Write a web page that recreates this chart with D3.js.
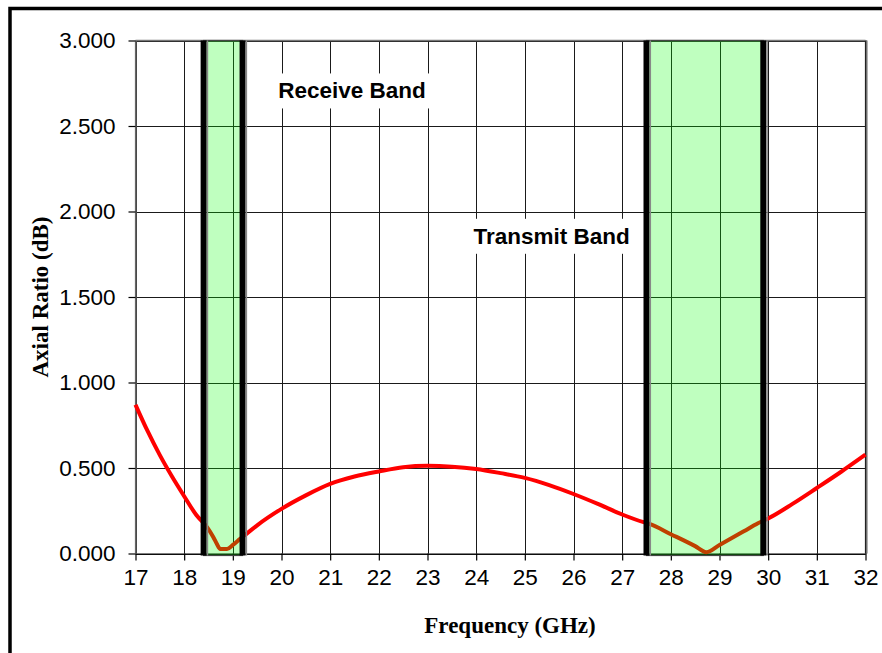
<!DOCTYPE html>
<html>
<head>
<meta charset="utf-8">
<script src="https://cdn.jsdelivr.net/npm/d3@7"></script>
<style>
  html, body { margin: 0; padding: 0; background: #fff; }
  svg { display: block; }
</style>
</head>
<body>
<svg id="chart" width="882" height="653"></svg>
<script>
// Axial ratio measurement across 17–32 GHz
const freqGHz = [17.0, 17.25, 17.5, 17.75, 18.0, 18.25, 18.47, 18.6, 18.67, 18.74, 18.88, 19.0, 19.15, 19.28, 19.5,
                 20.0, 20.5, 21.0, 21.5, 22.0, 22.5, 23.0, 23.5, 24.0, 24.5, 25.0, 25.5, 26.0, 26.5,
                 27.0, 27.44, 27.56, 28.0, 28.5, 28.73, 29.0, 29.5, 29.79, 30.0, 30.5, 31.0, 31.5, 32.0];
const axialRatioDb = [0.870, 0.715, 0.575, 0.450, 0.335, 0.225, 0.154, 0.095, 0.057, 0.027, 0.027, 0.050, 0.086, 0.115, 0.165,
                      0.261, 0.340, 0.407, 0.450, 0.480, 0.505, 0.513, 0.508, 0.494, 0.470, 0.442, 0.400, 0.348, 0.290,
                      0.228, 0.183, 0.173, 0.113, 0.043, 0.008, 0.050, 0.130, 0.177, 0.205, 0.290, 0.383, 0.478, 0.578];

// Frequency bands (GHz)
const bandNames  = ["Receive Band", "Transmit Band"];
const bandStart  = [18.4, 27.5];
const bandEnd    = [19.2, 29.9];
const bandLabelF = [21.45, 25.55];
const bandLabelV = [2.705, 1.855];

// Axis ticks
const xTicks = [17, 18, 19, 20, 21, 22, 23, 24, 25, 26, 27, 28, 29, 30, 31, 32];
const yTicks = [0, 0.5, 1.0, 1.5, 2.0, 2.5, 3.0];

const xTitle = "Frequency (GHz)";
const yTitle = "Axial Ratio (dB)";

const svg = d3.select("#chart");
const plot = { left: 135.5, right: 865.5, top: 40.5, bottom: 553.5 };

const x = d3.scaleLinear().domain([17, 32]).range([plot.left, plot.right]);
const y = d3.scaleLinear().domain([0, 3]).range([plot.bottom, plot.top]);

// outer frame
svg.append("rect")
  .attr("x", 10).attr("y", 8.5)
  .attr("width", 900).attr("height", 700)
  .attr("fill", "none").attr("stroke", "#000").attr("stroke-width", 3.5);

// grid
const grid = svg.append("g");
grid.selectAll("line.v").data(xTicks).join("line")
  .attr("x1", d => Math.round(x(d)) + 0.5).attr("x2", d => Math.round(x(d)) + 0.5)
  .attr("y1", plot.top).attr("y2", plot.bottom)
  .attr("stroke", "#1a1a1a").attr("stroke-width", 1);
grid.selectAll("line.h").data(yTicks).join("line")
  .attr("x1", plot.left).attr("x2", plot.right)
  .attr("y1", d => Math.round(y(d)) + 0.5).attr("y2", d => Math.round(y(d)) + 0.5)
  .attr("stroke", "#1a1a1a").attr("stroke-width", 1);

// plot border
svg.append("line").attr("x1", plot.left).attr("x2", plot.right).attr("y1", plot.top).attr("y2", plot.top)
  .attr("stroke", "#777").attr("stroke-width", 1.5);
svg.append("line").attr("x1", plot.right + 1.5).attr("x2", plot.right + 1.5).attr("y1", plot.top).attr("y2", plot.bottom)
  .attr("stroke", "#999").attr("stroke-width", 1.5);
svg.append("line").attr("x1", plot.right).attr("x2", plot.right).attr("y1", plot.top).attr("y2", plot.bottom)
  .attr("stroke", "#222").attr("stroke-width", 1.2);
svg.append("line").attr("x1", plot.left).attr("x2", plot.left).attr("y1", plot.top).attr("y2", plot.bottom)
  .attr("stroke", "#666").attr("stroke-width", 1.2);

// axes
const xAxis = d3.axisBottom(x).tickValues(xTicks).tickFormat(d3.format("d"))
  .tickSizeInner(7).tickSizeOuter(0).tickPadding(9);
const gx = svg.append("g").attr("transform", `translate(0,${plot.bottom})`).call(xAxis);
const yAxis = d3.axisLeft(y).tickValues(yTicks).tickFormat(d3.format(".3f"))
  .tickSizeInner(7).tickSizeOuter(0).tickPadding(13);
const gy = svg.append("g").attr("transform", `translate(${plot.left},0)`).call(yAxis);

[gx, gy].forEach(g => {
  g.select(".domain").attr("stroke", "#000").attr("stroke-width", 1.2);
  g.selectAll(".tick line").attr("stroke", "#000").attr("stroke-width", 1.2);
  g.selectAll(".tick text")
    .attr("fill", "#000")
    .attr("font-family", "'Liberation Sans', Arial, sans-serif")
    .attr("font-size", 22.5);
});
gy.select(".domain").attr("stroke", "#666");

// data curve
const line = d3.line()
  .x((d, i) => x(freqGHz[i]))
  .y(d => y(d))
  .curve(d3.curveMonotoneX);
svg.append("path")
  .datum(axialRatioDb)
  .attr("d", line)
  .attr("fill", "none")
  .attr("stroke", "#ff0000")
  .attr("stroke-width", 4)
  .attr("stroke-linejoin", "round");

// bands: translucent green over the curve, with heavy edge bars
const bands = svg.append("g");
bandStart.forEach((s, i) => {
  const x0 = x(s), x1 = x(bandEnd[i]);
  bands.append("rect")
    .attr("x", x0).attr("y", plot.top)
    .attr("width", x1 - x0).attr("height", plot.bottom + 2 - plot.top)
    .attr("fill", "#00ff00").attr("fill-opacity", 0.25)
    .attr("stroke", "#444").attr("stroke-width", 1.2);
  [x0, x1].forEach(xx => {
    bands.append("rect")
      .attr("x", xx - 3).attr("y", plot.top)
      .attr("width", 6).attr("height", plot.bottom + 2 - plot.top)
      .attr("fill", "#000");
    bands.append("line")
      .attr("x1", xx + 3.8).attr("x2", xx + 3.8)
      .attr("y1", plot.top).attr("y2", plot.bottom + 2)
      .attr("stroke", "#888").attr("stroke-width", 1.5);
  });
});

// band labels on white backing
const labels = svg.append("g");
bandNames.forEach((name, i) => {
  const t = labels.append("text")
    .attr("x", x(bandLabelF[i])).attr("y", y(bandLabelV[i]))
    .attr("text-anchor", "middle").attr("dominant-baseline", "central")
    .attr("font-family", "'Liberation Sans', Arial, sans-serif")
    .attr("font-weight", "bold").attr("font-size", 22.5)
    .attr("fill", "#000")
    .text(name);
  const b = t.node().getBBox();
  labels.insert("rect", () => t.node())
    .attr("x", b.x - 5).attr("y", b.y - 5)
    .attr("width", b.width + 10).attr("height", b.height + 10)
    .attr("fill", "#fff");
});

// axis titles
svg.append("text")
  .attr("x", 510).attr("y", 633)
  .attr("text-anchor", "middle")
  .attr("font-family", "'Liberation Serif', 'Times New Roman', serif")
  .attr("font-weight", "bold").attr("font-size", 23)
  .attr("fill", "#000")
  .text(xTitle);
svg.append("text")
  .attr("transform", `translate(48,${(plot.top + plot.bottom) / 2}) rotate(-90)`)
  .attr("text-anchor", "middle")
  .attr("font-family", "'Liberation Serif', 'Times New Roman', serif")
  .attr("font-weight", "bold").attr("font-size", 23)
  .attr("fill", "#000")
  .text(yTitle);
</script>
</body>
</html>
